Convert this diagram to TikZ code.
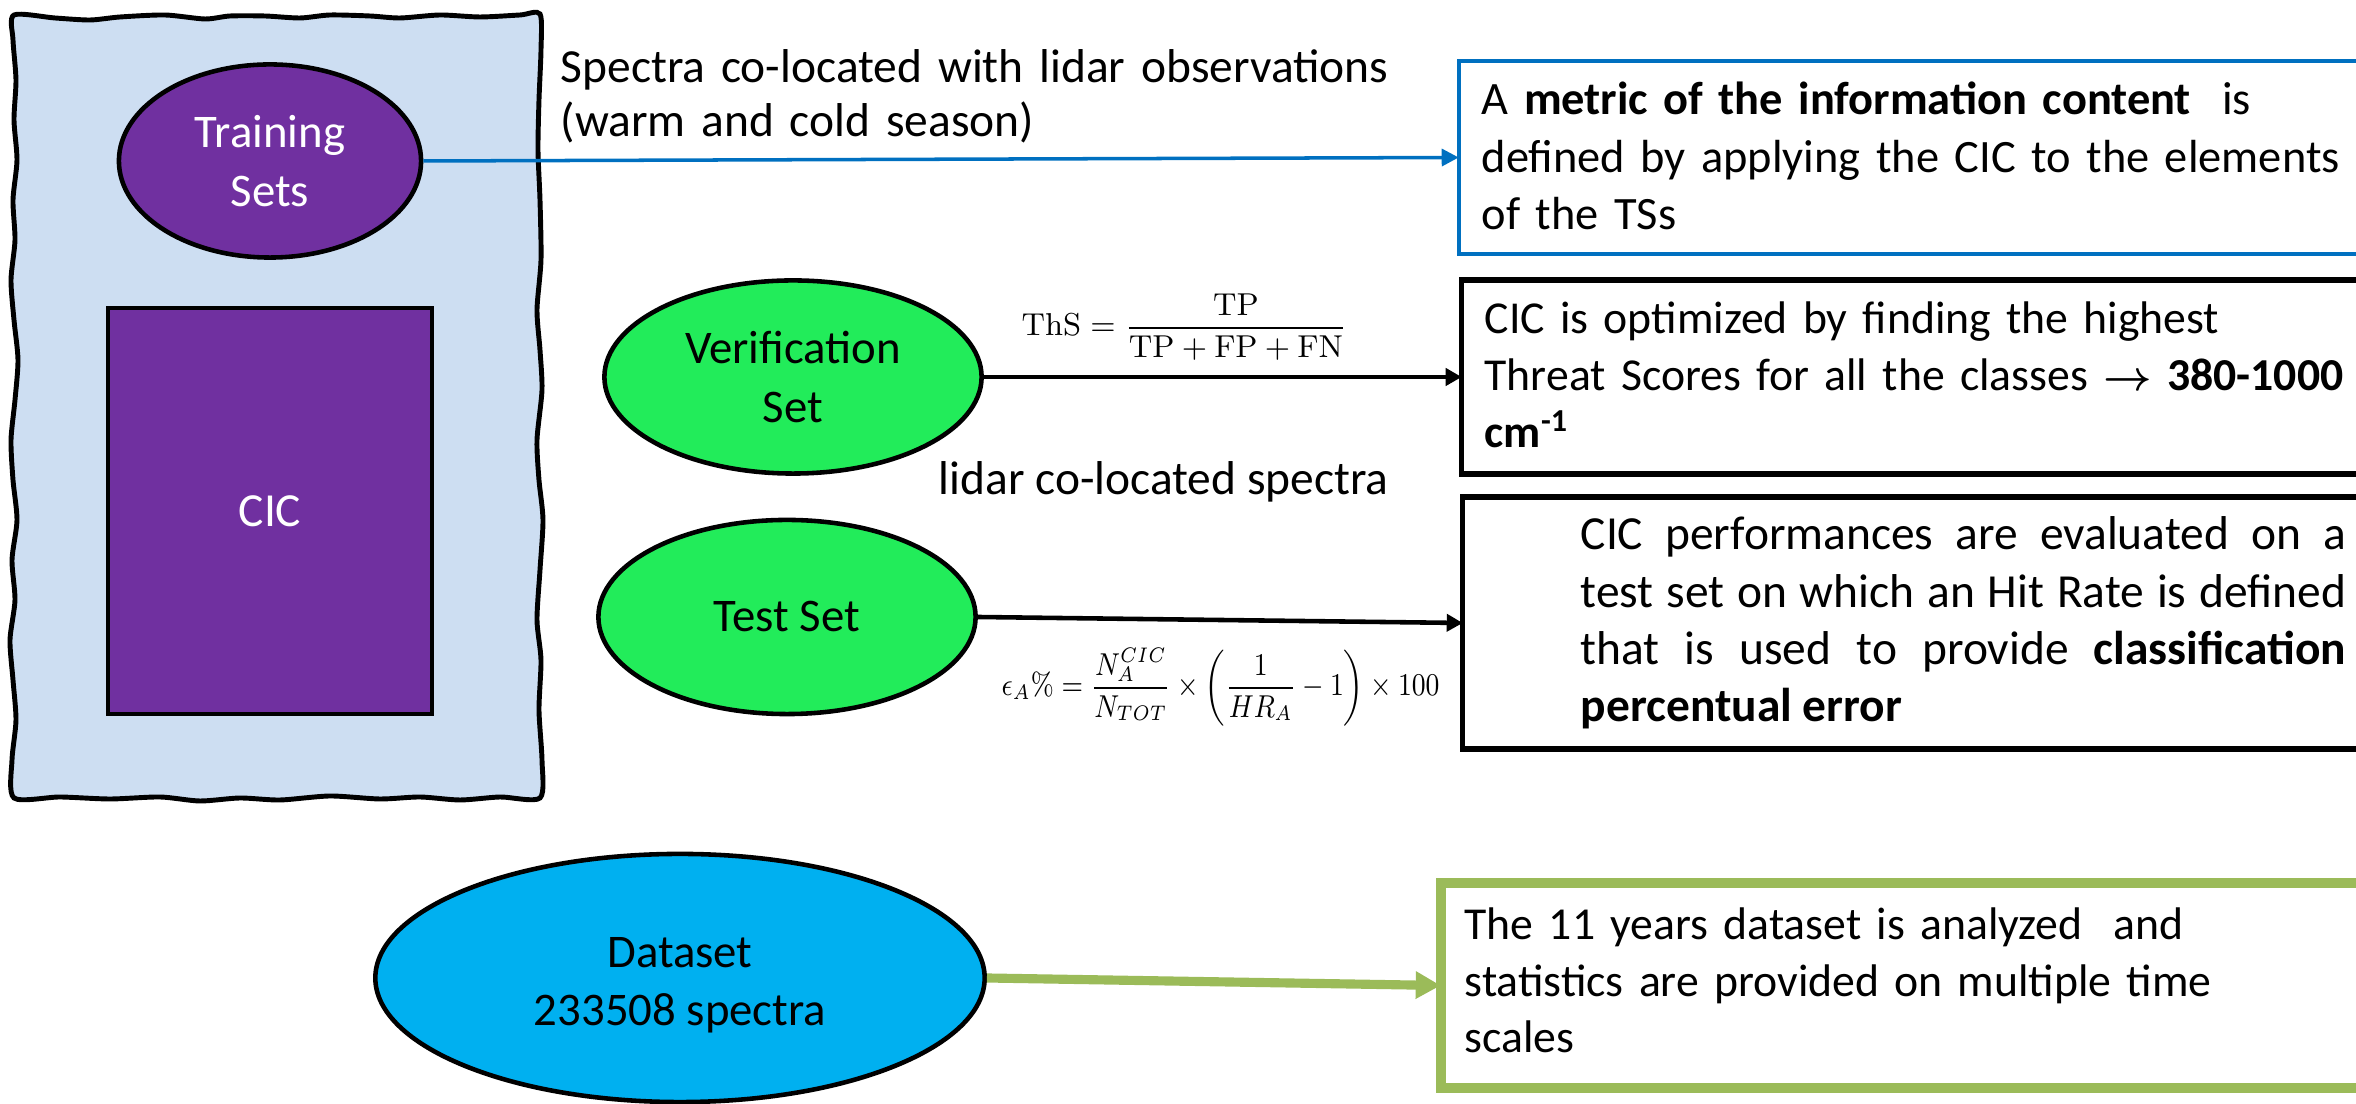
\documentclass[tikz,border=0pt]{standalone}
\usepackage{amsmath}
\usepackage{graphicx}
\usepackage[no-math]{fontspec}
\setmainfont{Carlito}
\usetikzlibrary{shapes.geometric,arrows.meta}
\definecolor{cicpurple}{HTML}{7030A0}
\definecolor{setgreen}{RGB}{34,236,90}
\definecolor{datablue}{HTML}{00B0F0}
\definecolor{panelblue}{RGB}{205,222,242}
\definecolor{linkblue}{HTML}{0070C0}
\definecolor{olivegreen}{HTML}{9BBB59}
\begin{document}
\begin{tikzpicture}[x=0.01cm,y=-0.01cm,
  txt/.style={font=\fontsize{13.5}{16.3}\selectfont, inner sep=0pt, align=left},
  elabel/.style={font=\fontsize{13.3}{16.6}\selectfont, align=center},
  oval/.style={ellipse, draw=black, line width=1.3pt, inner sep=0pt},
  panelbox/.style={rectangle, inner sep=0pt, outer sep=0pt},
  link/.style={line width=1.3pt, -{Triangle[length=0.16cm,width=0.17cm]}},
]
\useasboundingbox (0,0) rectangle (2356,1104);
\clip (0,0) rectangle (2356,1104);

% wavy panel
\path[draw=black, fill=panelblue, line width=1.4pt]
  plot[smooth cycle, tension=0.45] coordinates {
  (14,15) (55,18) (90,20) (120,17) (165,15) (205,19) (230,16) (265,16) (300,18) (330,15) (370,16) (400,18) (440,15) (480,17) (520,15) (540,14)
  (541,50) (539,100) (538,150) (540,200) (541,260) (537,310) (540,350) (542,390) (537,440) (539,480) (543,520) (540,570) (537,620) (541,660) (539,710) (542,760) (540,798)
  (500,797) (460,800) (420,797) (380,799) (330,796) (280,800) (240,798) (200,801) (160,797) (110,799) (60,797) (14,798)
  (12,760) (16,720) (13,680) (10,640) (15,600) (12,560) (17,520) (13,480) (11,440) (15,400) (18,360) (14,320) (11,280) (15,240) (13,200) (17,160) (14,120) (16,80) (13,40)};

% shapes
\node[oval, fill=cicpurple, text=white, elabel, minimum width=3.02cm, minimum height=1.93cm] (train) at (270,161) {Training\\Sets};
\node[rectangle, draw=black, line width=1.3pt, fill=cicpurple, text=white, font=\fontsize{13.5}{16}\selectfont, minimum width=3.24cm, minimum height=4.06cm, inner sep=0pt] (cic) at (270,511) {CIC};
\node[oval, fill=setgreen, elabel, minimum width=3.77cm, minimum height=1.93cm] (verif) at (793,377) {Verification\\Set};
\node[oval, fill=setgreen, elabel, minimum width=3.77cm, minimum height=1.94cm] (test) at (787,617) {Test Set};
\node[oval, fill=datablue, elabel, minimum width=6.09cm, minimum height=2.48cm] (data) at (680,978) {\rule{0pt}{0.44cm}Dataset\\233508 spectra};

% right boxes
\node[panelbox, draw=linkblue, line width=1.1pt, minimum width=9.41cm, minimum height=1.93cm] (box1) at (1929.5,157.5) {};
\node[panelbox, draw=black, line width=1.5pt, minimum width=9.38cm, minimum height=1.94cm] (box2) at (1931,377) {};
\node[panelbox, draw=black, line width=1.5pt, minimum width=9.37cm, minimum height=2.52cm] (box3) at (1931.5,623) {};
\node[panelbox, draw=olivegreen, line width=2.8pt, minimum width=9.59cm, minimum height=2.05cm] (box4) at (1920.5,985.5) {};

% connectors
\draw[draw=linkblue, line width=1pt, -{Triangle[length=0.17cm,width=0.17cm]}] (train.east) -- (box1.west);
\draw[link] (verif.east) -- (box2.west);
\draw[link] (test.east) -- (box3.west);
\draw[draw=olivegreen, line width=2.6pt, -{Triangle[length=0.25cm,width=0.26cm]}] (data.east) -- (box4.west);

% texts
\node[txt, text width=9cm, anchor=base west, font=\fontsize{13.5}{15.2}\selectfont] (spec) at (560,83) {Spectra co-located with lidar observations\\(warm and cold season)};
\node[txt, anchor=base west] (lidar) at (938,495) {lidar co-located spectra};
\node[txt, text width=10cm, anchor=base west, font=\fontsize{13.2}{16.3}\selectfont] (t1) at (1481,115) {A \textbf{metric of the information content}\ \ is\\defined by applying the CIC to the elements\\of the TSs};
\node[txt, text width=10cm, anchor=base west, font=\fontsize{13.0}{16.1}\selectfont] (t2) at (1484,334) {CIC is optimized by finding the highest\\Threat Scores for all the classes {\fontsize{13}{13}\selectfont$\boldsymbol{\rightarrow}$} \textbf{380-1000}\\\textbf{cm\textsuperscript{-1}}};
\node[txt, text width=7.65cm, align=justify, anchor=base west] (t3) at (1580,550) {CIC performances are evaluated on a\linebreak test set on which an Hit Rate is defined\linebreak that is used to provide \textbf{classification}\linebreak \textbf{percentual error}};
\node[txt, text width=10cm, anchor=base west, font=\fontsize{13.0}{16}\selectfont] (t4) at (1464,940) {The 11 years dataset is analyzed\ \ and\\statistics are provided on multiple time\\scales};

% formulas
\node[inner sep=0pt, anchor=base east, font=\fontsize{9.5}{11}\selectfont] (ths) at (1348,336) {$\mathrm{ThS}=\dfrac{\mathrm{TP}}{\mathrm{TP}+\mathrm{FP}+\mathrm{FN}}$};
\node[inner sep=0pt, anchor=base west, font=\fontsize{8.6}{10}\selectfont] (eps) at (1001,696) {\scalebox{0.85}[1]{$\epsilon_A\%=\dfrac{N_A^{CIC}}{N_{TOT}}\times\left(\dfrac{1}{HR_A}-1\right)\times100$}};
\end{tikzpicture}
\end{document}
